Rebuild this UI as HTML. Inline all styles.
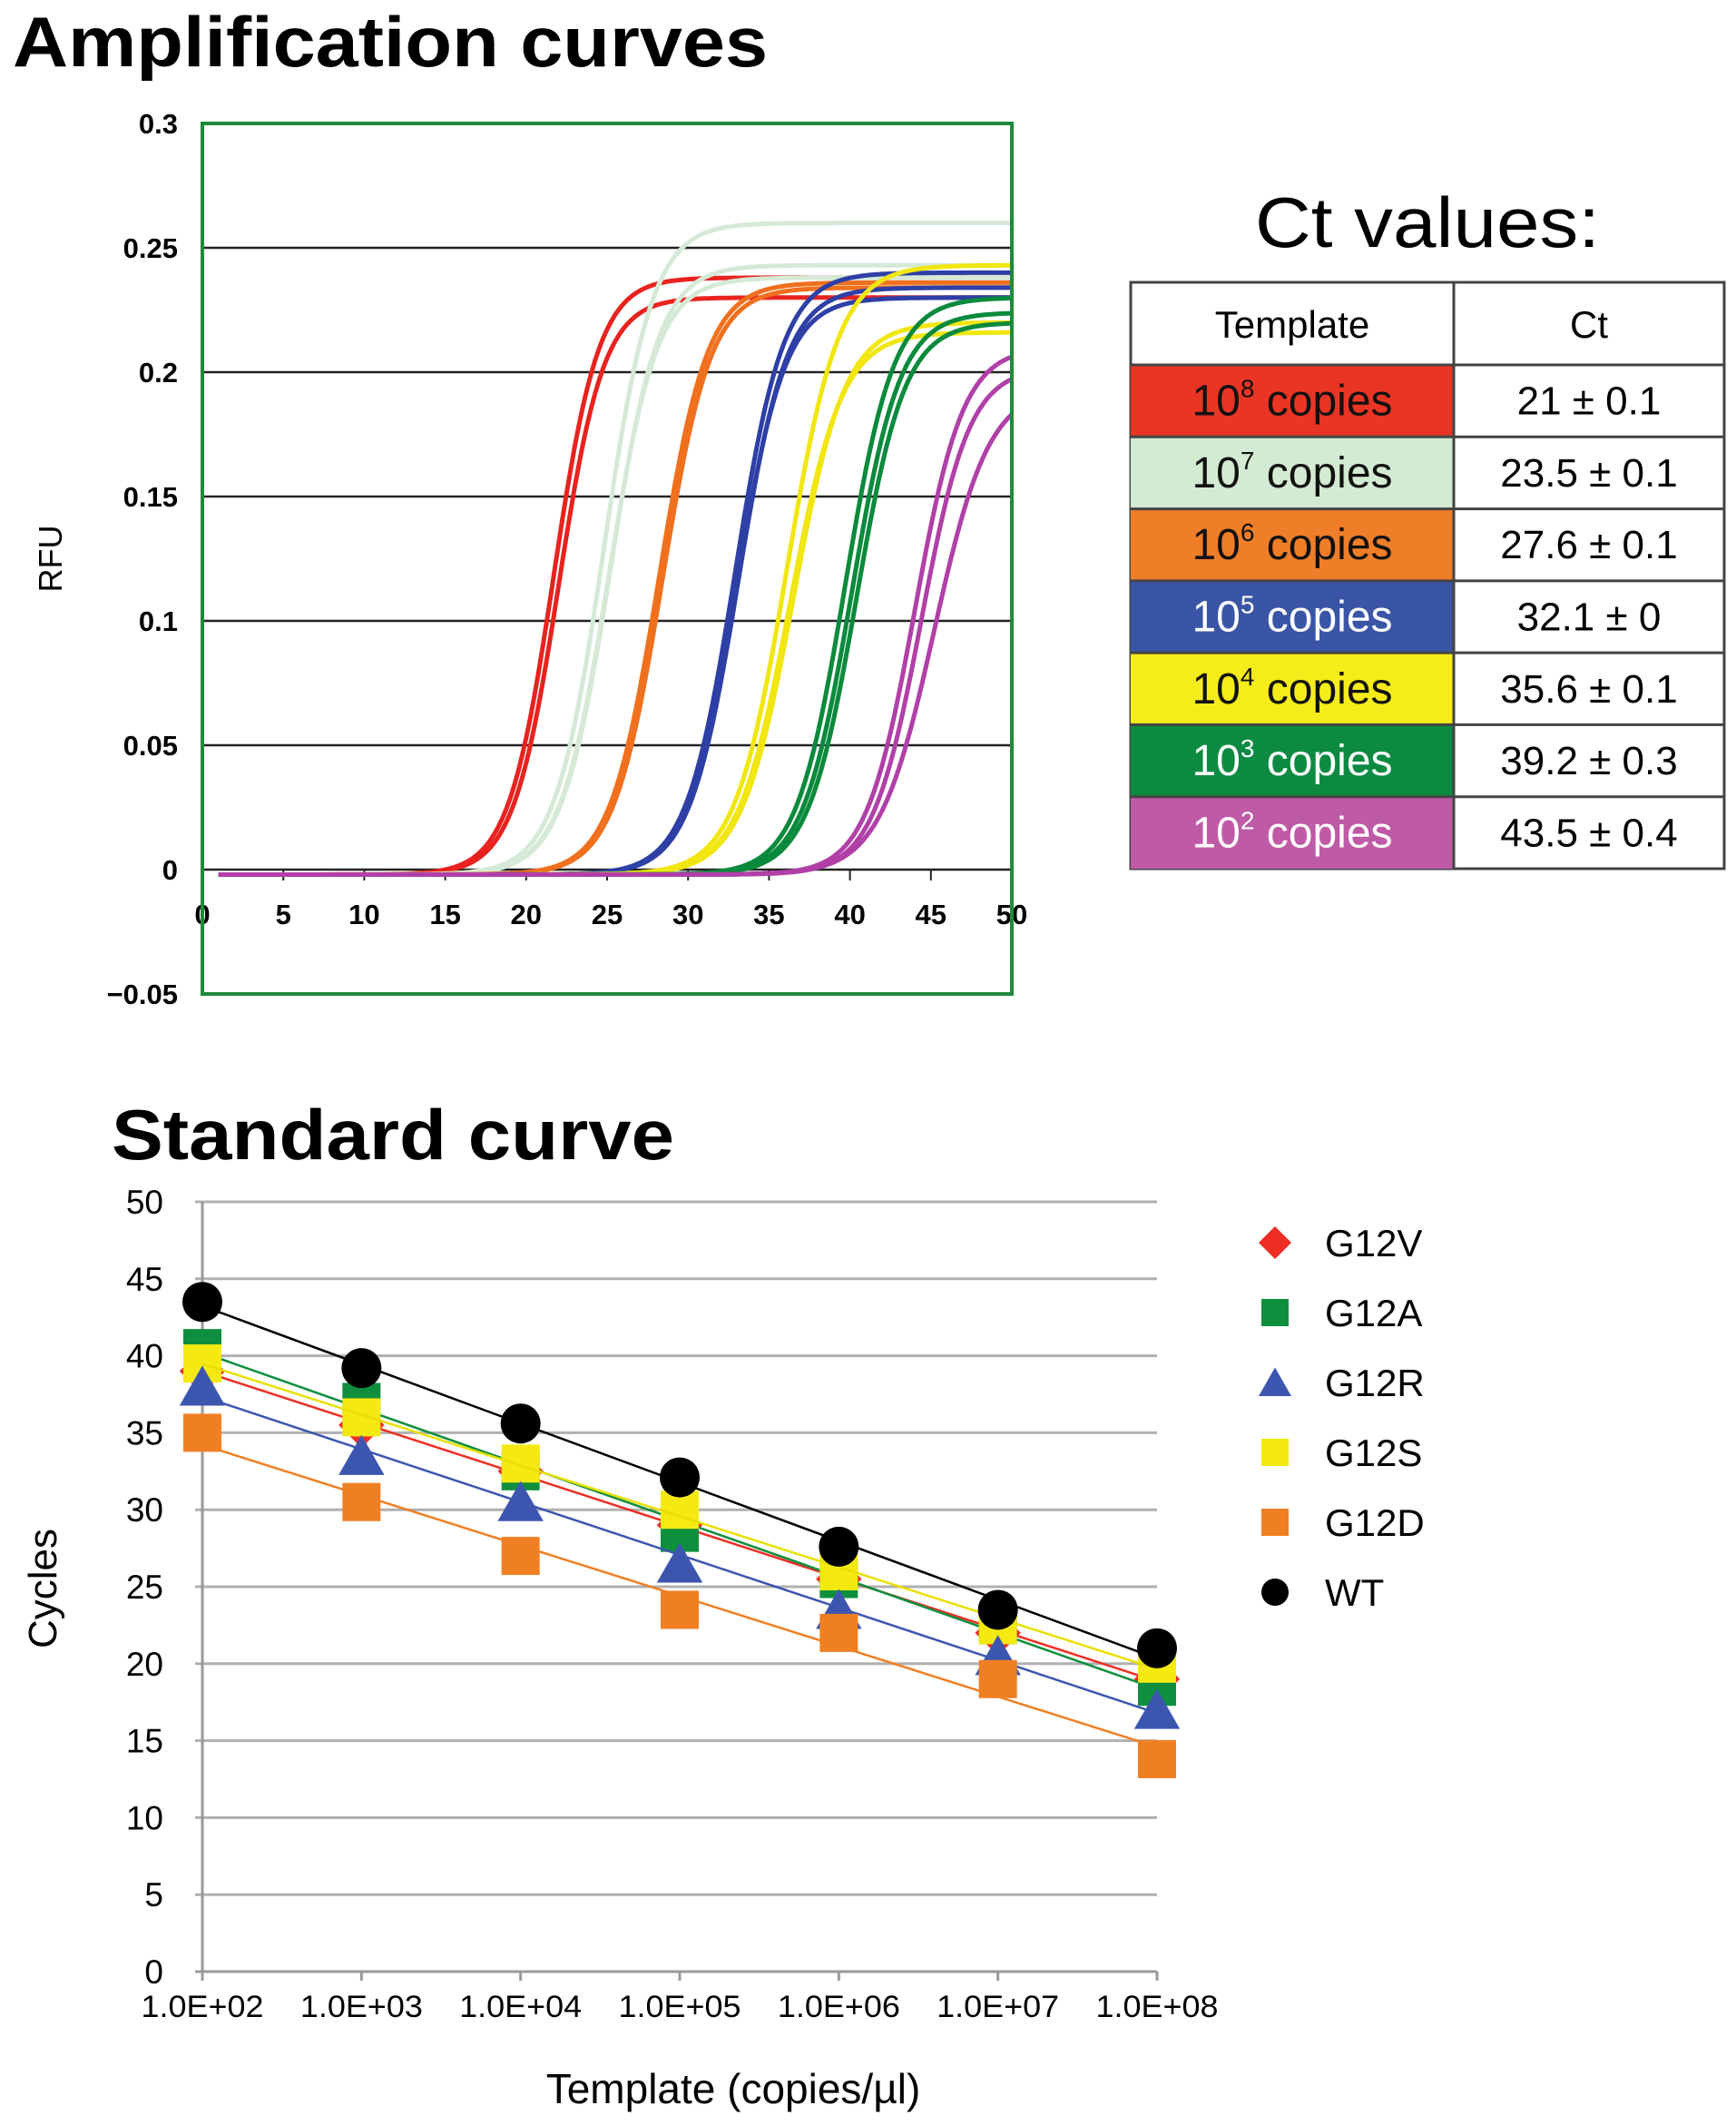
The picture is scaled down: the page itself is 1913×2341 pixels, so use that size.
<!DOCTYPE html>
<html><head><meta charset="utf-8"><style>
html,body{margin:0;padding:0;background:#fff;}
svg{display:block;font-family:"Liberation Sans",Arial,sans-serif;}
</style></head><body>
<svg id="fig" width="1913" height="2341" viewBox="0 0 1913 2341">
<text x="14" y="73" font-size="78" font-weight="bold" textLength="832" lengthAdjust="spacingAndGlyphs">Amplification  curves</text>
<g id="amp"></g>
<text x="1573" y="272" font-size="78" text-anchor="middle" textLength="380" lengthAdjust="spacingAndGlyphs">Ct values:</text>
<g id="tbl"></g>
<text x="123" y="1277" font-size="78" font-weight="bold" textLength="620" lengthAdjust="spacingAndGlyphs">Standard  curve</text>
<g id="std"></g>
</svg>
<script>
const NS="http://www.w3.org/2000/svg";
function mk(parent,tag,attrs,text){const e=document.createElementNS(NS,tag);for(const k in attrs)e.setAttribute(k,attrs[k]);if(text!==undefined)e.textContent=text;parent.appendChild(e);return e;}

// ---------- Amplification data ----------
const ampYTicks=[0.3,0.25,0.2,0.15,0.1,0.05,0,-0.05];
const ampYLabels=["0.3","0.25","0.2","0.15","0.1","0.05","0","\u22120.05"];
const ampXTicks=[0,5,10,15,20,25,30,35,40,45,50];
const curveColors=["#e8231f","#e8231f","#d5ead6","#d5ead6","#d5ead6","#f0701e","#f0701e","#2e3fa6","#2e3fa6","#2e3fa6","#f1e60f","#f1e60f","#f1e60f","#0a8a3c","#0a8a3c","#0a8a3c","#b040a8","#b040a8","#b040a8"];
const curveMid=[21.7,22.0,24.8,25.2,25.1,28.2,28.4,32.9,33.1,33.0,36.1,36.5,36.3,39.7,40.1,40.4,44.0,44.4,45.2];
const curvePlateau=[0.24,0.232,0.262,0.245,0.24,0.238,0.236,0.242,0.236,0.232,0.245,0.222,0.218,0.232,0.226,0.222,0.212,0.204,0.196];
const curveSlope=[1.4,1.4,1.5,1.5,1.5,1.5,1.5,1.5,1.5,1.5,1.6,1.6,1.6,1.5,1.5,1.5,1.5,1.5,1.7];

const amp=document.getElementById('amp');
const aX0=223,aX1=1115,aYt=136,aYb=1095;
const ax=c=>aX0+(c-0)/(50-0)*(aX1-aX0);
const ay=v=>aYt+(0.3-v)/(0.35)*(aYb-aYt);
ampYTicks.forEach((t,i)=>{
  if(t<0.3&&t>-0.05){const l=mk(amp,'line',{x1:aX0,x2:aX1,y1:ay(t),y2:ay(t),stroke:'#222','stroke-width':2.5});
  }
  const tx=mk(amp,'text',{x:196,y:ay(t)+11,'font-size':31,'font-weight':'bold','text-anchor':'end'},ampYLabels[i]);
  
});
ampXTicks.forEach(t=>{
  const l=mk(amp,'line',{x1:ax(t),x2:ax(t),y1:ay(0),y2:ay(0)+12,stroke:'#222','stroke-width':2});
  
  const tx=mk(amp,'text',{x:ax(t),y:ay(0)+60,'font-size':31,'font-weight':'bold','text-anchor':'middle'},String(t));
  
});
const rfu=mk(amp,'text',{x:68,y:ay(0.125),'font-size':36,'text-anchor':'middle',transform:`rotate(-90 68 ${ay(0.125)})`},'RFU');

curveMid.forEach((m,i)=>{
  let d='';
  for(let c=1;c<=50;c+=0.25){
    const v=curvePlateau[i]/(1+Math.exp(-(c-m)/curveSlope[i]))-0.002;
    d+=(d?'L':'M')+ax(c).toFixed(1)+','+ay(v).toFixed(1);
  }
  const p=mk(amp,'path',{d:d,fill:'none',stroke:curveColors[i],'stroke-width':5});
  
});
const frame=mk(amp,'rect',{x:aX0,y:aYt,width:aX1-aX0,height:aYb-aYt,fill:'none',stroke:'#1e8a3a','stroke-width':4});


// ---------- Table ----------
const tblExp=["8","7","6","5","4","3","2"];
const tblCt=["21 \u00b1 0.1","23.5 \u00b1 0.1","27.6 \u00b1 0.1","32.1 \u00b1 0","35.6 \u00b1 0.1","39.2 \u00b1 0.3","43.5 \u00b1 0.4"];
const tblFill=["#ea3525","#d3ebd3","#f07e28","#3b55a6","#f6ec1a","#0d8a41","#bf5aa6"];
const tblText=["#111","#111","#111","#fff","#111","#fff","#fff"];
const tbl=document.getElementById('tbl');
const tL=1246,tM=1602,tR=1900,tT=311,tH=402,rh=(957-402)/7;
let r=mk(tbl,'rect',{x:tL,y:tT,width:tR-tL,height:957-tT,fill:'#fff',stroke:'#444','stroke-width':3});

let h1=mk(tbl,'text',{x:(tL+tM)/2,y:372,'font-size':42,'text-anchor':'middle'},'Template');

let h2=mk(tbl,'text',{x:(tM+tR)/2,y:372,'font-size':42,'text-anchor':'middle'},'Ct');

tblExp.forEach((e,i)=>{
  const y=tH+i*rh;
  const c=mk(tbl,'rect',{x:tL,y:y,width:tM-tL,height:rh,fill:tblFill[i]});
  
  const t=mk(tbl,'text',{x:(tL+tM)/2,y:y+rh/2+16,'font-size':48,'text-anchor':'middle',fill:tblText[i]});
  
  mk(t,'tspan',{},'10');mk(t,'tspan',{dy:-20,'font-size':28},e);mk(t,'tspan',{dy:20},' copies');
  const v=mk(tbl,'text',{x:(tM+tR)/2,y:y+rh/2+15,'font-size':44,'text-anchor':'middle'},tblCt[i]);
  
  const l=mk(tbl,'line',{x1:tL,x2:tR,y1:y,y2:y,stroke:'#444','stroke-width':3});
  
});
let vl=mk(tbl,'line',{x1:tM,x2:tM,y1:tT,y2:957,stroke:'#444','stroke-width':3});


// ---------- Standard curve data ----------
const stdCategories=["1.0E+02","1.0E+03","1.0E+04","1.0E+05","1.0E+06","1.0E+07","1.0E+08"];
const stdYTicks=[0,5,10,15,20,25,30,35,40,45,50];
const seriesNames=["G12V","G12A","G12R","G12S","G12D","WT"];
const seriesColors=["#ee2e24","#0f8f3e","#3c56b0","#f4ea12","#f07f23","#000"];
const lineColors=["#ee2e24","#0f8f3e","#3c56b0","#e8e000","#f07f23","#000"];
const valsG12V=[39.0,35.5,32.5,29.0,25.5,22.0,19.0];
const valsG12A=[40.5,37.0,32.5,28.5,25.5,22.5,18.5];
const valsG12R=[38.0,33.5,30.5,26.5,23.5,20.5,17.0];
const valsG12S=[39.5,36.0,33.0,30.0,26.0,22.5,20.0];
const valsG12D=[35.0,30.5,27.0,23.5,22.0,19.0,13.8];
const valsWT=[43.5,39.2,35.6,32.1,27.6,23.5,21.0];
const seriesVals=[valsG12V,valsG12A,valsG12R,valsG12S,valsG12D,valsWT];
const drawOrder=[0,1,3,2,4,5];

const std=document.getElementById('std');
const sX0=223,sX1=1275,sYt=1324,sYb=2172;
const sx=i=>sX0+i/(stdCategories.length-1)*(sX1-sX0);
const sy=v=>sYb-v/50*(sYb-sYt);
stdYTicks.forEach(t=>{
  const l=mk(std,'line',{x1:sX0-8,x2:sX1,y1:sy(t),y2:sy(t),stroke:t===0?'#999':'#b0b0b0','stroke-width':3});
  
  const tx=mk(std,'text',{x:180,y:sy(t)+13,'font-size':37,'text-anchor':'end'},String(t));
  
});
let ya=mk(std,'line',{x1:sX0,x2:sX0,y1:sYt,y2:sYb,stroke:'#999','stroke-width':3});

stdCategories.forEach((c,i)=>{
  const l=mk(std,'line',{x1:sx(i),x2:sx(i),y1:sYb,y2:sYb+10,stroke:'#999','stroke-width':3});
  
  const tx=mk(std,'text',{x:sx(i),y:sYb+50,'font-size':34,'text-anchor':'middle',textLength:135,lengthAdjust:'spacingAndGlyphs'},c);
  
});
let cy=mk(std,'text',{x:62,y:1750,'font-size':44,'text-anchor':'middle',transform:'rotate(-90 62 1750)'},'Cycles');

let xt=mk(std,'text',{x:808,y:2317,'font-size':46,'text-anchor':'middle'},'Template (copies/\u00b5l)');


function marker(g,k,x,y,s){
  const c=seriesColors[k];let e;
  if(k===0)e=mk(g,'polygon',{points:`${x},${y-s*0.6} ${x+s*0.6},${y} ${x},${y+s*0.6} ${x-s*0.6},${y}`,fill:c});
  else if(k===2)e=mk(g,'polygon',{points:`${x},${y-s*0.55} ${x+s*0.6},${y+s*0.5} ${x-s*0.6},${y+s*0.5}`,fill:c});
  else if(k===5)e=mk(g,'circle',{cx:x,cy:y,r:s*0.5,fill:c});
  else e=mk(g,'rect',{x:x-s/2,y:y-s/2,width:s,height:s,fill:c});
  return e;
}
drawOrder.forEach(k=>{
  const vals=seriesVals[k];const n=vals.length;
  let mx=(n-1)/2,my=vals.reduce((a,b)=>a+b,0)/n,num=0,den=0;
  vals.forEach((v,i)=>{num+=(i-mx)*(v-my);den+=(i-mx)*(i-mx);});
  const sl=num/den,ic=my-sl*mx;
  vals.forEach((v,i)=>{
    const m=marker(std,k,sx(i),sy(v),k===5?44:42);
    
    
  });
  const tl=mk(std,'line',{x1:sx(0),y1:sy(ic),x2:sx(n-1),y2:sy(ic+sl*(n-1)),stroke:lineColors[k],'stroke-width':2.5});
  
  
});
seriesNames.forEach((nm,k)=>{
  const y=1369+k*77;
  const m=marker(std,k,1405,y,30);
  
  
  const t=mk(std,'text',{x:1460,y:y+15,'font-size':42},nm);
  
  
});
</script>
</body></html>
